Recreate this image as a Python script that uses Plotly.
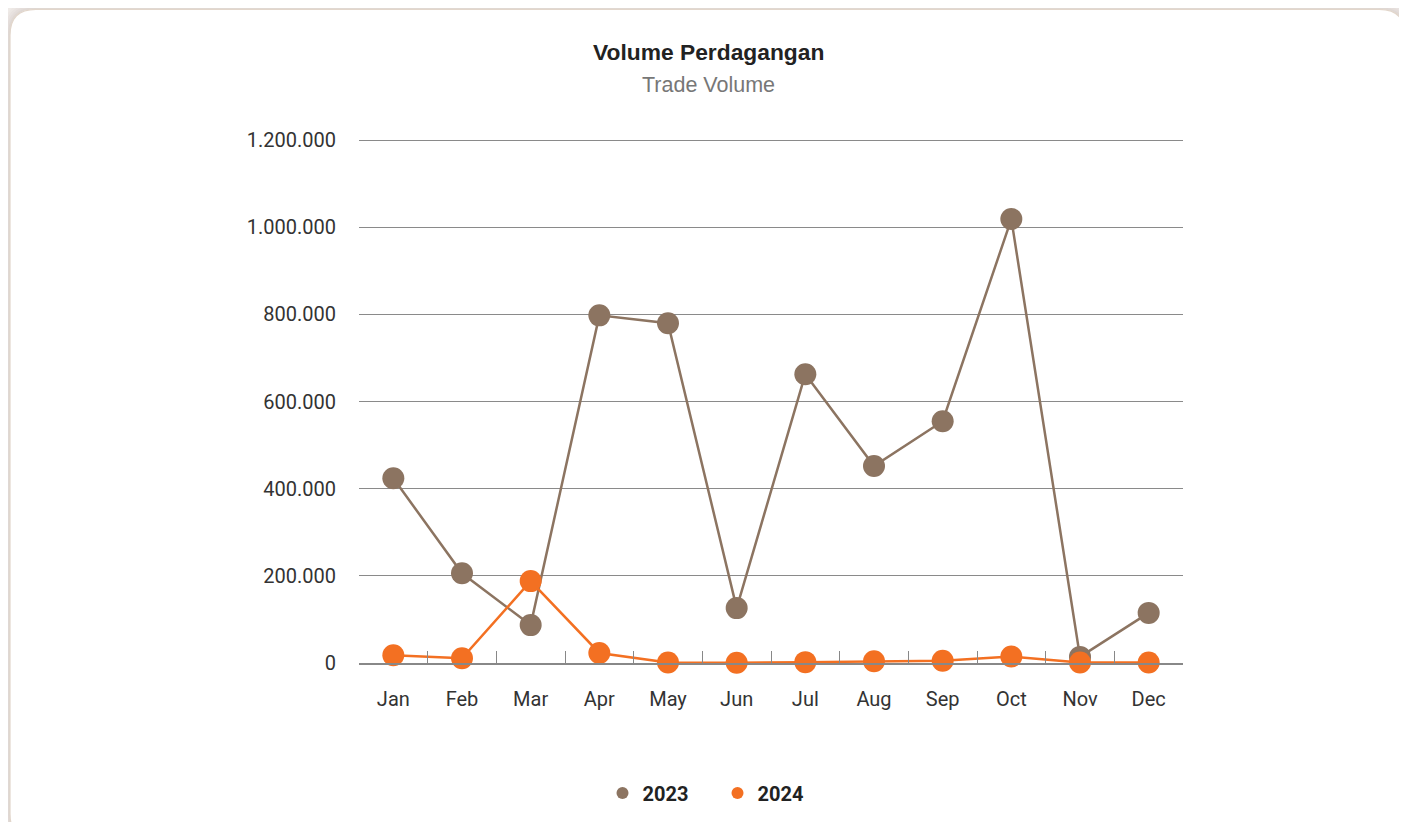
import plotly.graph_objects as go

months = ["Jan", "Feb", "Mar", "Apr", "May", "Jun", "Jul", "Aug", "Sep", "Oct", "Nov", "Dec"]
vol_2023 = [424000, 206000, 87000, 798000, 780000, 126000, 663000, 452000, 555000, 1019000, 14000, 115000]
vol_2024 = [18000, 11000, 188000, 23000, 1000, 500, 2000, 4000, 5000, 15000, 1000, 1000]
y_ticks = [0, 200000, 400000, 600000, 800000, 1000000, 1200000]

OFF = 8  # page body margin offset
W, H = 1407, 822
Y_TOP = 1212000
top_px = 663 - (663 - 140) * Y_TOP / 1200000
ML, MR, MT, MB = 359 - OFF, W - (1183 - OFF), top_px - OFF, H - (663 - OFF)
PW, PH = W - ML - MR, H - MT - MB


def px(x):
    return (x - OFF - ML) / PW


def py(y):
    return (H - MB - (y - OFF)) / PH


def rounded(x0, y0, x1, y1, r):
    pts = [
        f"M {px(x0 + r)},{py(y0)}",
        f"L {px(x1 - r)},{py(y0)}",
        f"Q {px(x1)},{py(y0)} {px(x1)},{py(y0 + r)}",
        f"L {px(x1)},{py(y1 - r)}",
        f"Q {px(x1)},{py(y1)} {px(x1 - r)},{py(y1)}",
        f"L {px(x0 + r)},{py(y1)}",
        f"Q {px(x0)},{py(y1)} {px(x0)},{py(y1 - r)}",
        f"L {px(x0)},{py(y0 + r)}",
        f"Q {px(x0)},{py(y0)} {px(x0 + r)},{py(y0)}",
        "Z",
    ]
    return " ".join(pts)


shapes = []
for i, op in [(8, 0.03), (6, 0.04), (4, 0.05), (2, 0.06)]:
    shapes.append(dict(type="path", xref="paper", yref="paper", layer="below",
                       path=rounded(10 - i, 9 - i, 1405 + i, 840 + i, 26 + i),
                       fillcolor=f"rgba(150,130,115,{op})", line=dict(width=0)))
shapes.append(dict(type="path", xref="paper", yref="paper", layer="below",
                   path=rounded(10, 9, 1405, 840, 26),
                   fillcolor="white", line=dict(color="#e2d6cb", width=1.2)))

brown = "#8c7461"
orange = "#f37022"

fig = go.Figure()
fig.add_trace(go.Scatter(
    x=months, y=vol_2023, name="2023", mode="lines+markers", showlegend=False,
    line=dict(color=brown, width=2.5),
    marker=dict(color=brown, size=22, line=dict(width=0)),
    cliponaxis=False,
))
fig.add_trace(go.Scatter(
    x=months, y=vol_2024, name="2024", mode="lines+markers", showlegend=False,
    line=dict(color=orange, width=2.5),
    marker=dict(color=orange, size=22, line=dict(width=0)),
    cliponaxis=False,
))
# legend entries (marker only)
for name, col in [("2023", brown), ("2024", orange)]:
    fig.add_trace(go.Scatter(x=[None], y=[None], name=name, mode="markers",
                             marker=dict(color=col, size=16, line=dict(width=0))))

fig.update_layout(
    width=W, height=H,
    margin=dict(l=ML, r=MR, t=MT, b=MB),
    paper_bgcolor="#efebe8",
    plot_bgcolor="rgba(0,0,0,0)",
    separators=",.",
    shapes=shapes,
    showlegend=True,
    legend=dict(orientation="h", x=px(717.5), xanchor="center", y=py(793), yanchor="middle",
                font=dict(family="Roboto", size=20, color="#222", weight="bold"),
                itemsizing="constant", bgcolor="rgba(0,0,0,0)", traceorder="normal",
                itemwidth=30, entrywidth=70, entrywidthmode="pixels"),
    annotations=[
        dict(text="<b>Volume Perdagangan</b>", xref="paper", yref="paper",
             x=px(708), y=py(52), xanchor="center", yanchor="middle", showarrow=False,
             font=dict(family="Arial", size=22.8, color="#222")),
        dict(text="Trade Volume", xref="paper", yref="paper",
             x=px(708), y=py(85), xanchor="center", yanchor="middle", showarrow=False,
             font=dict(family="Arial", size=21.5, color="#777")),
    ],
    hovermode=False,
)
fig.update_xaxes(
    type="category", range=[-0.5, 11.5], tickson="boundaries",
    ticks="inside", ticklen=12, tickcolor="#888", tickwidth=1,
    showline=True, linecolor="#888", linewidth=2, showgrid=False,
    tickfont=dict(family="Roboto", size=20, color="#333"), ticklabelstandoff=17,
)
fig.update_yaxes(
    range=[0, Y_TOP], tickvals=y_ticks, tickformat=",d",
    showgrid=True, gridcolor="#8a8a8a", gridwidth=1, zeroline=False,
    showline=False, ticks="",
    tickfont=dict(family="Roboto", size=20, color="#333"), ticklabelstandoff=22,
)

fig.write_html("out.html")
